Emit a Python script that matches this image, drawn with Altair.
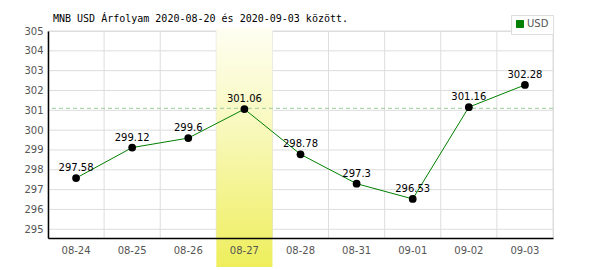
import altair as alt
import pandas as pd

dates = ["08-24", "08-25", "08-26", "08-27", "08-28", "08-31", "09-01", "09-02", "09-03"]
values = [297.58, 299.12, 299.6, 301.06, 298.78, 297.3, 296.53, 301.16, 302.28]
labels = ["297.58", "299.12", "299.6", "301.06", "298.78", "297.3", "296.53", "301.16", "302.28"]
series = "USD"
highlight = ["08-27"]
ref_value = [301.1]
y_ticks = [295, 296, 297, 298, 299, 300, 301, 302, 303, 304, 305]
title_text = ["MNB USD Árfolyam 2020-08-20 és 2020-09-03 között."]

W, H = 505, 207
FONT = "DejaVu Sans"

df = pd.DataFrame({"date": dates, "value": values, "label": labels, "series": series})
df_hl = pd.DataFrame({"date": highlight})
df_ref = pd.DataFrame({"v": ref_value})
df_yg = pd.DataFrame({"v": y_ticks})
df_xg = pd.DataFrame({"date": dates})
df_title = pd.DataFrame({"t": title_text})

yscale = alt.Scale(domain=[294.56, 305], nice=False, zero=False)
xscale = alt.Scale(domain=dates, paddingInner=0, paddingOuter=0)

xaxis = alt.Axis(title=None, grid=False, ticks=False, labelColor="#555555", labelFont=FONT,
                 labelFontSize=10, labelPadding=7, domainColor="#000000", domainWidth=1.5,
                 labelAngle=0, zindex=1)
yaxis = alt.Axis(title=None, grid=False, ticks=False, labelColor="#555555", labelFont=FONT,
                 labelFontSize=10, labelPadding=5, domainColor="#000000", domainWidth=1.5,
                 values=y_ticks, format="d", zindex=1)

ygrid = alt.Chart(df_yg).mark_rule(color="#dddddd", strokeWidth=1).encode(
    y=alt.Y("v:Q", scale=yscale, axis=yaxis)
)
xgrid = alt.Chart(df_xg).mark_rule(color="#dddddd", strokeWidth=1).encode(
    x=alt.X("date:N", scale=xscale, axis=xaxis, bandPosition=0)
)
rgrid = alt.Chart(df_title).mark_rule(color="#dddddd", strokeWidth=1).encode(
    x=alt.value(W), y=alt.value(0), y2=alt.value(H)
)

hl = alt.Chart(df_hl).mark_rect(
    color=alt.Gradient(gradient="linear",
                       stops=[alt.GradientStop(color="#fefef2", offset=0),
                              alt.GradientStop(color="#f8f8b8", offset=0.45),
                              alt.GradientStop(color="#eeee5c", offset=1)],
                       x1=0, x2=0, y1=0, y2=1)
).encode(
    x=alt.X("date:N", scale=xscale, axis=xaxis),
    y=alt.value(-3), y2=alt.value(236)
)

ref = alt.Chart(df_ref).mark_rule(color="#99cc99", strokeDash=[4, 3], strokeWidth=1).encode(
    y=alt.Y("v:Q", scale=yscale, axis=yaxis)
)

line = alt.Chart(df).mark_line(strokeWidth=1).encode(
    x=alt.X("date:N", scale=xscale, axis=xaxis, sort=dates),
    y=alt.Y("value:Q", scale=yscale, axis=yaxis),
    color=alt.Color("series:N", scale=alt.Scale(domain=["USD"], range=["#008000"]),
                    legend=alt.Legend(title=None, orient="none", legendX=463, legendY=-16,
                                      symbolType="square", symbolSize=49,
                                      symbolFillColor="#008000", symbolStrokeColor="#004400",
                                      symbolStrokeWidth=1,
                                      labelColor="#555555", labelFont=FONT, labelFontSize=10,
                                      labelOffset=2,
                                      strokeColor="#dddddd", fillColor="#ffffff", padding=4,
                                      cornerRadius=0))
)

pts = alt.Chart(df).mark_circle(size=60, color="#000000", opacity=1).encode(
    x=alt.X("date:N", scale=xscale, axis=xaxis),
    y=alt.Y("value:Q", scale=yscale, axis=yaxis)
)

txt = alt.Chart(df).mark_text(font=FONT, fontSize=10, color="#000000", dy=-7,
                              baseline="alphabetic", align="center").encode(
    x=alt.X("date:N", scale=xscale, axis=xaxis),
    y=alt.Y("value:Q", scale=yscale, axis=yaxis),
    text="label:N"
)

title = alt.Chart(df_title).mark_text(font="DejaVu Sans Mono", fontSize=10, color="#000000",
                                      align="left", baseline="alphabetic").encode(
    x=alt.value(5), y=alt.value(-9), text="t:N"
)

chart = alt.layer(ygrid, xgrid, rgrid, hl, ref, line, pts, txt, title).properties(
    width=W, height=H,
    autosize=alt.AutoSizeParams(type="none"),
    padding={"left": 48, "top": 31, "right": 47, "bottom": 32}
).configure_view(stroke=None).configure(background="#ffffff")

chart.save("out.html", embed_options={"renderer": "svg", "actions": False})
